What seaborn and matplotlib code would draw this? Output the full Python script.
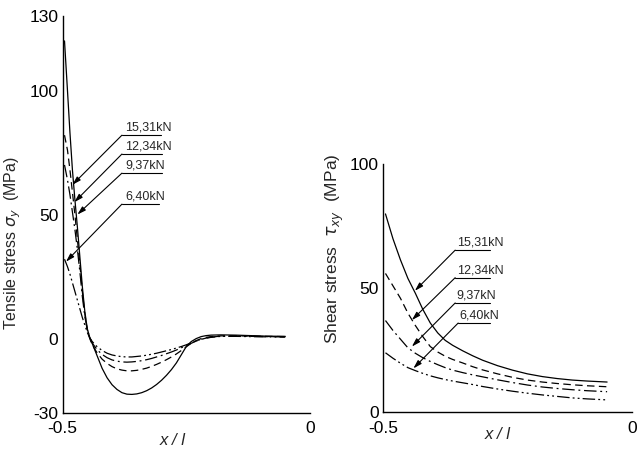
import seaborn as sns
import matplotlib.pyplot as plt
import pandas as pd
from matplotlib.ticker import MultipleLocator

# load cases
loads = ['15,31kN', '12,34kN', '9,37kN', '6,40kN']

# ---- tensile stress sigma_y along x/l (left panel) ----
x_tens = [-0.496, -0.49, -0.485, -0.48, -0.475, -0.47, -0.465, -0.46, -0.455, -0.45,
          -0.445, -0.44, -0.43, -0.42, -0.41, -0.40, -0.39, -0.38, -0.37, -0.36,
          -0.35, -0.34, -0.33, -0.32, -0.31, -0.30, -0.29, -0.28, -0.27, -0.26,
          -0.25, -0.24, -0.23, -0.22, -0.21, -0.20, -0.18, -0.15, -0.12, -0.09, -0.05]
tens_1531 = [120, 100, 83, 68, 56, 45, 33, 21, 11, 4,
             0.5, -2, -7, -12, -15.8, -18.6, -20.5, -21.8, -22.4, -22.5,
             -22.3, -21.8, -21, -19.9, -18.5, -16.8, -14.8, -12.5, -9.8, -6.5,
             -3.2, -1.2, 0, 0.8, 1.2, 1.4, 1.5, 1.4, 1.2, 1.0, 0.9]
tens_1234 = [82, 76, 68, 59, 50, 40, 30, 19, 10, 3.5,
             0, -2.5, -5.8, -8.3, -10, -11.3, -12.2, -12.7, -13, -13,
             -12.8, -12.4, -11.9, -11.2, -10.4, -9.5, -8.5, -7.4, -6.2, -4.8,
             -3.3, -1.9, -0.8, 0, 0.5, 0.8, 1.1, 1.1, 1.0, 0.9, 0.8]
tens_937 = [70, 64, 58, 51, 44, 36, 27, 17, 9, 3.5,
            0.5, -1.8, -4.5, -6.4, -7.7, -8.6, -9.1, -9.4, -9.5, -9.4,
            -9.2, -8.9, -8.5, -8, -7.4, -6.8, -6.1, -5.4, -4.6, -3.7,
            -2.8, -1.9, -1.0, -0.3, 0.2, 0.6, 1.0, 1.0, 0.9, 0.8, 0.7]
tens_640 = [32, 29, 26, 22.5, 19, 15.5, 12, 8.5, 5.5, 2.5,
            0.3, -1.2, -3.3, -4.8, -5.9, -6.6, -7.0, -7.3, -7.4, -7.4,
            -7.2, -7.0, -6.7, -6.3, -5.9, -5.4, -4.9, -4.4, -3.8, -3.2,
            -2.5, -1.7, -0.9, -0.3, 0.2, 0.5, 0.9, 0.9, 0.8, 0.7, 0.6]

# ---- shear stress tau_xy along x/l (right panel) ----
x_shear = [-0.495, -0.48, -0.465, -0.45, -0.435, -0.42, -0.405, -0.39, -0.375, -0.36,
           -0.34, -0.32, -0.30, -0.27, -0.24, -0.21, -0.18, -0.15, -0.12, -0.09, -0.05]
shear_1531 = [80, 70, 61.5, 54, 48, 41.5, 36, 32, 29, 27,
              24.8, 22.8, 21, 18.8, 17, 15.5, 14.4, 13.6, 13, 12.6, 12.2]
shear_1234 = [56, 51, 46, 40, 35, 30.5, 26.5, 24.3, 22.6, 21.3,
              19.9, 18.4, 17.1, 15.5, 14.1, 13, 12.2, 11.6, 11.1, 10.7, 10.3]
shear_937 = [37, 33, 29.5, 26, 23.8, 22, 20.5, 19.2, 18, 17,
             16, 15.1, 14.3, 13.1, 12, 11, 10.2, 9.6, 9.1, 8.7, 8.3]
shear_640 = [24, 21.8, 19.8, 18, 16.8, 15.7, 14.7, 13.9, 13.2, 12.6,
             11.9, 11.2, 10.4, 9.4, 8.5, 7.7, 7.0, 6.4, 5.8, 5.4, 5.0]


def long_df(x, series):
    frames = []
    for name, ys in zip(loads, series):
        frames.append(pd.DataFrame({'x': x, 'y': ys, 'load': name}))
    return pd.concat(frames, ignore_index=True)


df_tens = long_df(x_tens, [tens_1531, tens_1234, tens_937, tens_640])
df_shear = long_df(x_shear, [shear_1531, shear_1234, shear_937, shear_640])

sns.set_style('white')
plt.rcParams['font.family'] = ['Liberation Sans', 'DejaVu Sans']
plt.rcParams['axes.unicode_minus'] = False

line_dashes = {'15,31kN': '', '12,34kN': (6, 3.5),
               '9,37kN': (10, 3, 1.5, 3), '6,40kN': (10, 2.5, 1.5, 2.5, 1.5, 2.5)}

fig = plt.figure(figsize=(6.38, 4.5), dpi=100)
ax1 = fig.add_axes([0.098, 0.0822, 0.388, 0.882])
ax2 = fig.add_axes([0.6003, 0.0838, 0.3903, 0.551])

for ax, df in [(ax1, df_tens), (ax2, df_shear)]:
    sns.lineplot(data=df, x='x', y='y', style='load', style_order=loads,
                 dashes=line_dashes, color='black', lw=0.9, estimator=None,
                 legend=False, ax=ax)

# ---- axes styling ----
tick_font = 12.5
for ax in (ax1, ax2):
    sns.despine(ax=ax)
    for s in ('left', 'bottom'):
        ax.spines[s].set_color('black')
        ax.spines[s].set_linewidth(1.0)
    ax.set_xlim(-0.5, 0)
    ax.set_xticks([-0.5, -0.4, -0.3, -0.2, -0.1, 0])
    ax.set_xticklabels(['-0.5', '', '', '', '', '0'], fontsize=tick_font)
    ax.yaxis.set_minor_locator(MultipleLocator(10))
    ax.tick_params(axis='x', direction='in', length=8, width=1.0, pad=6, colors='black')
    ax.tick_params(axis='y', which='major', direction='in', length=18, width=0.9, pad=3,
                   labelsize=tick_font, colors='black')
    ax.tick_params(axis='y', which='minor', direction='in', length=9, width=0.9)
    ax.set_xlabel('x / l', fontstyle='italic', fontsize=12, va='top')

ax1.set_ylim(-30, 130)
ax1.set_yticks([-30, 0, 50, 100, 130])
ax1.yaxis.get_major_ticks()[-1].tick1line.set_markersize(10)
ax1.set_ylabel(r'Tensile stress $\sigma_y$  (MPa)', fontsize=11.5)
ax1.yaxis.set_label_coords(-0.16, 0.428)
ax1.xaxis.set_label_coords(0.446, -0.05)

ax2.set_ylim(0, 100)
ax2.set_yticks([0, 50, 100])
ax2.set_ylabel(r'Shear stress  $\tau_{xy}$  (MPa)', fontsize=12.5)
ax2.yaxis.set_label_coords(-0.15, 0.66)
ax2.xaxis.set_label_coords(0.462, -0.059)

# ---- leader labels: (underline start x, underline end x, underline y, arrow tip) ----
left_notes = [(-0.380, -0.301, 82.0, (-0.480, 62)),
              (-0.380, -0.300, 74.4, (-0.476, 55)),
              (-0.380, -0.300, 66.7, (-0.470, 50)),
              (-0.380, -0.305, 54.2, (-0.493, 31))]
right_notes = [(-0.355, -0.285, 65.4, (-0.436, 49)),
               (-0.355, -0.285, 54.3, (-0.442, 37.2)),
               (-0.355, -0.285, 44.1, (-0.442, 26.5)),
               (-0.349, -0.285, 36.0, (-0.439, 17.7))]

for ax, notes, dx in [(ax1, left_notes, 0.006), (ax2, right_notes, 0.003)]:
    for name, (x0, x1, yu, tip) in zip(loads, notes):
        ax.plot([x0, x1], [yu, yu], color='black', lw=0.8)
        ax.annotate('', xy=tip, xytext=(x0, yu),
                    arrowprops=dict(arrowstyle='-|>,head_length=0.5,head_width=0.15',
                                    color='black', lw=0.8, shrinkA=0, shrinkB=0))
        ax.text(x0 + dx, yu + 0.6, name, fontsize=9, va='bottom', ha='left')

fig.savefig('out.png', dpi=100, facecolor='white')
